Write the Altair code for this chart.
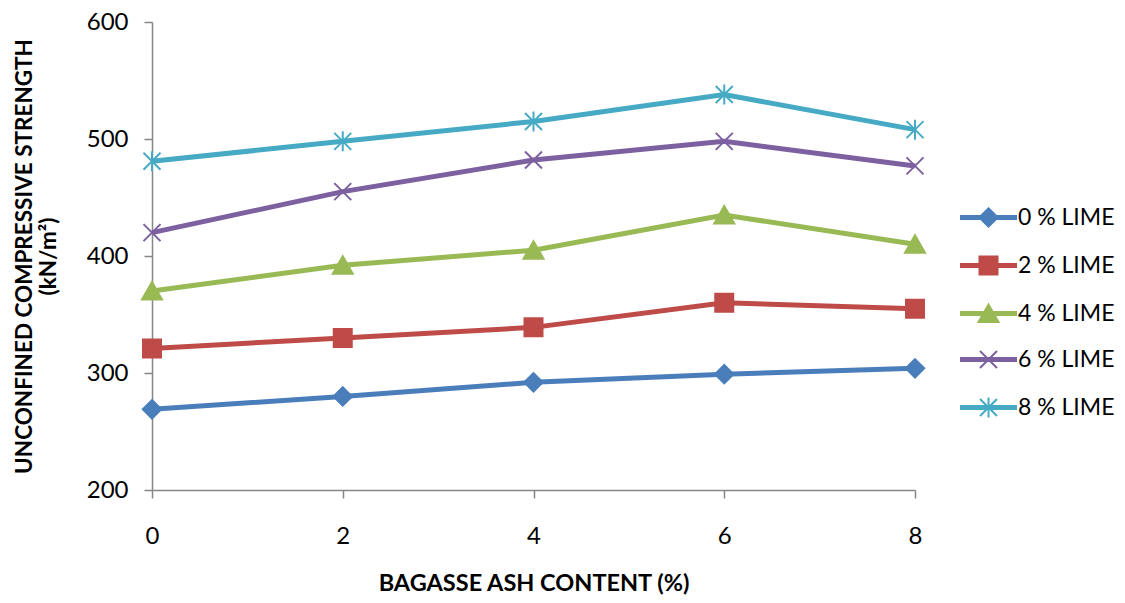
import altair as alt
import pandas as pd

# ---- data ----
ash_content = [0, 2, 4, 6, 8]
series_names = ["0 % LIME", "2 % LIME", "4 % LIME", "6 % LIME", "8 % LIME"]
lime_0 = [269, 280, 292, 299, 304]
lime_2 = [321, 330, 339, 360, 355]
lime_4 = [370, 392, 405, 435, 410]
lime_6 = [420, 455, 482, 498, 477]
lime_8 = [481, 498, 515, 538, 508]
x_ticks = [0, 2, 4, 6, 8]
y_ticks = [200, 300, 400, 500, 600]

series_values = [lime_0, lime_2, lime_4, lime_6, lime_8]

# ---- styles ----
colors = ["#4A7EBB", "#BE4B48", "#98B954", "#7D60A0", "#46AAC5"]
marker_paths = [
    "M0,-0.92L0.92,0L0,0.92L-0.92,0Z",
    "M-0.9,-0.9L0.9,-0.9L0.9,0.9L-0.9,0.9Z",
    "M0,-0.9L1,0.85L-1,0.85Z",
    "M-0.85,-0.85L0.85,0.85M0.85,-0.85L-0.85,0.85",
    "M-0.85,-0.85L0.85,0.85M0.85,-0.85L-0.85,0.85M0,-1L0,1",
]
legend_line = "M-2.75,-0.15L2.75,-0.15L2.75,0.15L-2.75,0.15Z"
legend_paths = [legend_line + p for p in marker_paths]
FONT = "Lato"
AXIS_GRAY = "#868686"

rows = []
for name, vals in zip(series_names, series_values):
    for xv, yv in zip(ash_content, vals):
        rows.append({"ash": xv, "ucs": yv, "series": name})
df = pd.DataFrame(rows)

x_enc = alt.X(
    "ash:Q",
    scale=alt.Scale(domain=[0, 8], nice=False),
    axis=alt.Axis(
        values=x_ticks, grid=False, tickSize=8, tickColor=AXIS_GRAY, tickWidth=1.5,
        domainColor=AXIS_GRAY, domainWidth=1.5, labelFlush=False,
        labelFont=FONT, labelFontSize=24, labelColor="black", labelPadding=26,
        title="BAGASSE ASH CONTENT (%)", titleFont=FONT, titleFontSize=23.5,
        titleFontWeight="bold", titleColor="black", titleY=93, titleBaseline="middle",
    ),
)
y_enc = alt.Y(
    "ucs:Q",
    scale=alt.Scale(domain=[200, 600], nice=False, zero=False),
    axis=alt.Axis(
        values=y_ticks, grid=False, tickSize=8, tickColor=AXIS_GRAY, tickWidth=1.5,
        domainColor=AXIS_GRAY, domainWidth=1.5,
        labelFont=FONT, labelFontSize=24, labelColor="black", labelPadding=16,
        title=["UNCONFINED COMPRESSIVE STRENGTH", "(kN/m²)"], titleFont=FONT,
        titleFontSize=22.5, titleFontWeight="bold", titleColor="black",
        titleAngle=270, titleBaseline="middle", titleX=-128, titleY=234,
        titleLineHeight=24,
    ),
)

base = alt.Chart(df)

line_layers = []
marker_layers = []
for name, path, col in zip(series_names, marker_paths, colors):
    sub = base.transform_filter(alt.datum.series == name)
    line_layers.append(
        sub.mark_line(strokeWidth=5, color=col).encode(x=x_enc, y=y_enc)
    )
    marker_layers.append(
        sub.mark_point(shape=path, size=400, filled=True, opacity=1,
                       strokeWidth=2, fill=col, stroke=col)
        .encode(x=x_enc, y=y_enc)
    )

legend_def = alt.Legend(
    orient="none", legendX=825, legendY=184, title=None,
    labelFont=FONT, labelFontSize=23, labelColor="black",
    symbolSize=400, symbolStrokeWidth=2, rowPadding=21, labelOffset=18,
    padding=0, symbolOpacity=1,
)

# invisible layer whose only job is to carry the legend (line + marker symbols)
legend_layer = (
    base.mark_point(size=400, filled=True, opacity=0, strokeWidth=2)
    .encode(
        x=x_enc, y=y_enc,
        color=alt.Color("series:N", scale=alt.Scale(domain=series_names, range=colors), legend=legend_def),
        stroke=alt.Stroke("series:N", scale=alt.Scale(domain=series_names, range=colors), legend=legend_def),
        shape=alt.Shape("series:N", scale=alt.Scale(domain=series_names, range=legend_paths), legend=legend_def),
    )
)

chart = (
    alt.layer(*line_layers, *marker_layers, legend_layer)
    .properties(
        width=763, height=468,
        autosize=alt.AutoSizeParams(type="none"),
        padding={"left": 144, "top": 14, "right": 202, "bottom": 105},
        background="white",
    )
    .configure_view(stroke=None)
    .configure_legend(symbolOpacity=1)
)

chart.save("out.html", embed_options={"renderer": "svg", "actions": False})
